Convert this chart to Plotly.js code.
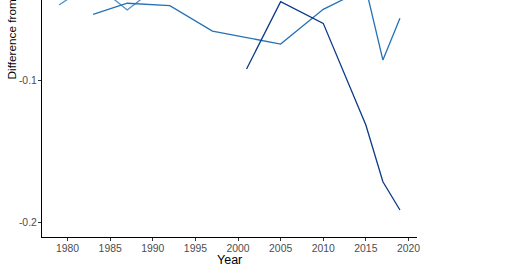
<!DOCTYPE html>
<html>
<head>
<meta charset="utf-8">
<script src="https://cdn.plot.ly/plotly-3.0.1.min.js"></script>
<style>html,body{margin:0;padding:0;background:#fff;}#chart{width:520px;height:272px;}</style>
</head>
<body>
<div id="chart"></div>
<script>
// Series A (medium blue)
const yearsA = [1983, 1987, 1992, 1997, 2005, 2010, 2015, 2017, 2019];
const valuesA = [-0.054, -0.0462, -0.0479, -0.0657, -0.0748, -0.0505, -0.0357, -0.086, -0.0568];
// Series B (lighter blue)
const yearsB = [1979, 1983, 1987, 1991];
const valuesB = [-0.0474, -0.0316, -0.0509, -0.0325];
// Series C (dark navy)
const yearsC = [2001, 2005, 2010, 2015, 2017, 2019];
const valuesC = [-0.0923, -0.0451, -0.0603, -0.1315, -0.1713, -0.1911];

const xTicks = [1980, 1985, 1990, 1995, 2000, 2005, 2010, 2015, 2020];
const yTicks = [-0.2, -0.1, 0, 0.1];
const yTickText = ['-0.2', '-0.1', '0.0', '0.1'];

const font = 'Liberation Sans, Arial, sans-serif';

const traces = [
  {x: yearsB, y: valuesB, mode: 'lines', line: {color: '#4a93cc', width: 1.3}, hoverinfo: 'skip'},
  {x: yearsA, y: valuesA, mode: 'lines', line: {color: '#2471b5', width: 1.3}, hoverinfo: 'skip'},
  {x: yearsC, y: valuesC, mode: 'lines', line: {color: '#0b3a86', width: 1.3}, hoverinfo: 'skip'}
];

const layout = {
  width: 520, height: 272,
  margin: {l: 42, r: 103, t: 0, b: 35},
  paper_bgcolor: '#fff', plot_bgcolor: '#fff',
  showlegend: false,
  font: {family: font, color: '#4d4d4d', size: 10.4},
  xaxis: {
    range: [1977, 2021], tickvals: xTicks, ticktext: xTicks.map(String),
    showgrid: false, zeroline: false, showline: true, linecolor: '#000', linewidth: 1.1,
    ticks: 'outside', ticklen: 3, tickwidth: 1, tickcolor: '#333', ticklabelstandoff: -2,
    tickfont: {family: font, size: 10.4, color: '#4d4d4d'}
  },
  yaxis: {
    range: [-0.21, -0.04394], tickvals: yTicks, ticktext: yTickText,
    showgrid: false, zeroline: false, showline: true, linecolor: '#000', linewidth: 1.1,
    ticks: 'outside', ticklen: 3, tickwidth: 1, tickcolor: '#333', ticklabelstandoff: -1,
    tickfont: {family: font, size: 10.4, color: '#4d4d4d'}
  },
  annotations: [
    {text: 'Year', xref: 'paper', yref: 'paper', x: 0.5, y: -0.097, xanchor: 'center', yanchor: 'middle',
     showarrow: false, font: {family: font, size: 12.5, color: '#000'}},
    {text: 'Difference from', xref: 'paper', yref: 'paper', x: -0.08, y: 0.654, xanchor: 'center', yanchor: 'bottom',
     textangle: -90, showarrow: false, font: {family: font, size: 11.8, color: '#000'}}
  ]
};

Plotly.newPlot('chart', traces, layout, {staticPlot: true, displayModeBar: false});
</script>
</body>
</html>
